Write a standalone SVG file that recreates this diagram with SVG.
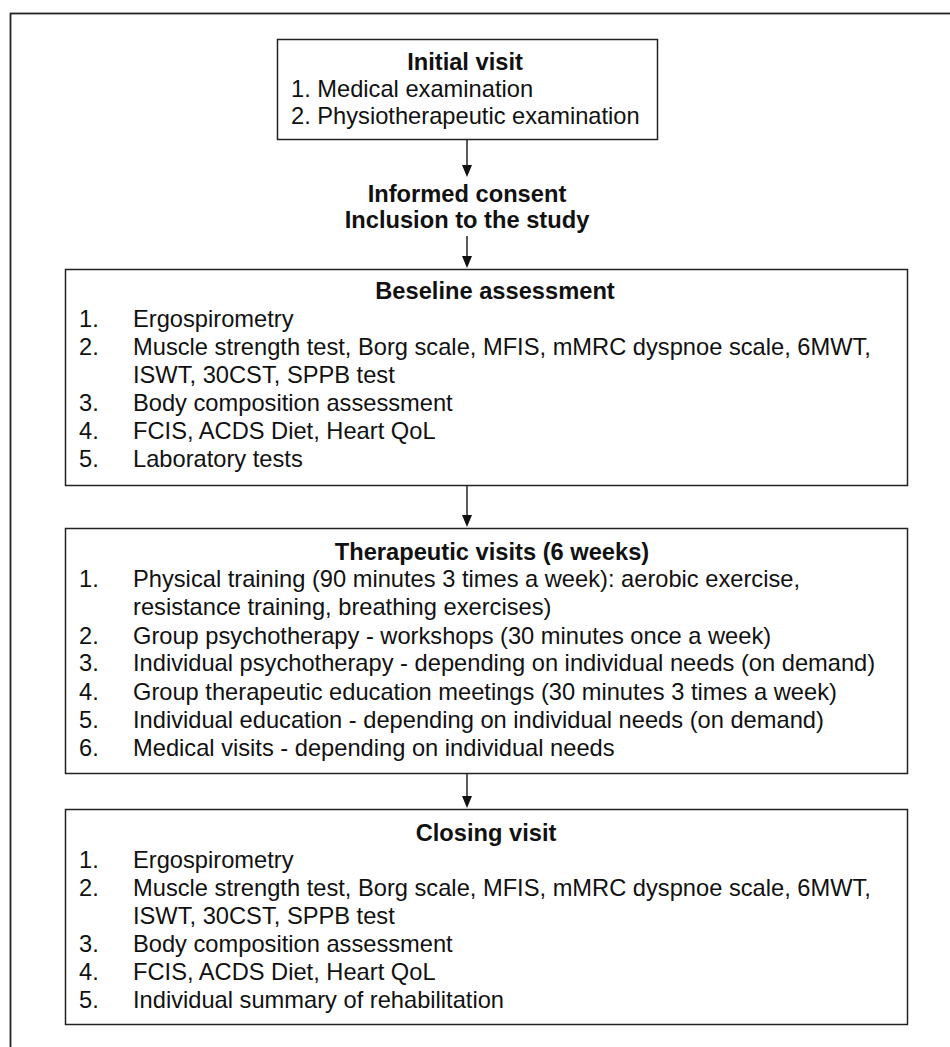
<svg xmlns="http://www.w3.org/2000/svg" width="950" height="1047" viewBox="0 0 950 1047">
<style>
.t{font-family:"Liberation Sans",Arial,sans-serif;font-size:23px;fill:#111}
.b{font-weight:bold}
.c{text-anchor:middle}
.box{fill:#fff;stroke:#222;stroke-width:1.5}
.ln{stroke:#222;stroke-width:1.5;fill:none}
.ah{fill:#111}
</style>
<rect width="950" height="1047" fill="#fff"/>
<rect id="frame" x="10.5" y="13.5" width="1000" height="1100" fill="none" stroke="#222" stroke-width="1.8"/>

<g id="connectors">
<line class="ln" x1="467" y1="139" x2="467" y2="170"/>
<path class="ah" d="M462,165 L472,165 L467,177 Z"/>
<line class="ln" x1="467" y1="236" x2="467" y2="260"/>
<path class="ah" d="M462,256 L472,256 L467,268 Z"/>
<line class="ln" x1="467" y1="485" x2="467" y2="520"/>
<path class="ah" d="M462,515 L472,515 L467,527 Z"/>
<line class="ln" x1="467" y1="773" x2="467" y2="800"/>
<path class="ah" d="M462,796 L472,796 L467,808 Z"/>
</g>

<g id="initial">
<rect class="box" x="277.5" y="39.5" width="380" height="100"/>
<text class="t b c" transform="matrix(1.03,0,0,1,465,70)">Initial visit</text>
<text class="t" transform="matrix(1.03,0,0,1,291,97)">1. Medical examination</text>
<text class="t" transform="matrix(1.03,0,0,1,291,124)">2. Physiotherapeutic examination</text>
</g>

<g id="consent">
<text class="t b c" transform="matrix(1.03,0,0,1,467,202)">Informed consent</text>
<text class="t b c" transform="matrix(1.03,0,0,1,467,228)">Inclusion to the study</text>
</g>

<g id="baseline">
<rect class="box" x="65.5" y="269.5" width="842" height="216"/>
<text class="t b c" transform="matrix(1.03,0,0,1,495,299)">Beseline assessment</text>
<text class="t" transform="matrix(1.03,0,0,1,79,327)">1.</text>
<text class="t" transform="matrix(1.03,0,0,1,133,327)">Ergospirometry</text>
<text class="t" transform="matrix(1.03,0,0,1,79,355)">2.</text>
<text class="t" transform="matrix(1.03,0,0,1,133,355)">Muscle strength test, Borg scale, MFIS, mMRC dyspnoe scale, 6MWT,</text>
<text class="t" transform="matrix(1.03,0,0,1,133,383)">ISWT, 30CST, SPPB test</text>
<text class="t" transform="matrix(1.03,0,0,1,79,411)">3.</text>
<text class="t" transform="matrix(1.03,0,0,1,133,411)">Body composition assessment</text>
<text class="t" transform="matrix(1.03,0,0,1,79,439)">4.</text>
<text class="t" transform="matrix(1.03,0,0,1,133,439)">FCIS, ACDS Diet, Heart QoL</text>
<text class="t" transform="matrix(1.03,0,0,1,79,467)">5.</text>
<text class="t" transform="matrix(1.03,0,0,1,133,467)">Laboratory tests</text>
</g>

<g id="therapeutic">
<rect class="box" x="65.5" y="528.5" width="842" height="245"/>
<text class="t b c" transform="matrix(1.03,0,0,1,492,560)">Therapeutic visits (6 weeks)</text>
<text class="t" transform="matrix(1.03,0,0,1,79,587)">1.</text>
<text class="t" transform="matrix(1.03,0,0,1,133,587)">Physical training (90 minutes 3 times a week): aerobic exercise,</text>
<text class="t" transform="matrix(1.03,0,0,1,133,615)">resistance training, breathing exercises)</text>
<text class="t" transform="matrix(1.03,0,0,1,79,644)">2.</text>
<text class="t" transform="matrix(1.03,0,0,1,133,644)">Group psychotherapy - workshops (30 minutes once a week)</text>
<text class="t" transform="matrix(1.03,0,0,1,79,671)">3.</text>
<text class="t" transform="matrix(1.03,0,0,1,133,671)">Individual psychotherapy - depending on individual needs (on demand)</text>
<text class="t" transform="matrix(1.03,0,0,1,79,700)">4.</text>
<text class="t" transform="matrix(1.03,0,0,1,133,700)">Group therapeutic education meetings (30 minutes 3 times a week)</text>
<text class="t" transform="matrix(1.03,0,0,1,79,728)">5.</text>
<text class="t" transform="matrix(1.03,0,0,1,133,728)">Individual education - depending on individual needs (on demand)</text>
<text class="t" transform="matrix(1.03,0,0,1,79,756)">6.</text>
<text class="t" transform="matrix(1.03,0,0,1,133,756)">Medical visits - depending on individual needs</text>
</g>

<g id="closing">
<rect class="box" x="65.5" y="809.5" width="842" height="215"/>
<text class="t b c" transform="matrix(1.03,0,0,1,486,841)">Closing visit</text>
<text class="t" transform="matrix(1.03,0,0,1,79,868)">1.</text>
<text class="t" transform="matrix(1.03,0,0,1,133,868)">Ergospirometry</text>
<text class="t" transform="matrix(1.03,0,0,1,79,896)">2.</text>
<text class="t" transform="matrix(1.03,0,0,1,133,896)">Muscle strength test, Borg scale, MFIS, mMRC dyspnoe scale, 6MWT,</text>
<text class="t" transform="matrix(1.03,0,0,1,133,924)">ISWT, 30CST, SPPB test</text>
<text class="t" transform="matrix(1.03,0,0,1,79,952)">3.</text>
<text class="t" transform="matrix(1.03,0,0,1,133,952)">Body composition assessment</text>
<text class="t" transform="matrix(1.03,0,0,1,79,980)">4.</text>
<text class="t" transform="matrix(1.03,0,0,1,133,980)">FCIS, ACDS Diet, Heart QoL</text>
<text class="t" transform="matrix(1.03,0,0,1,79,1008)">5.</text>
<text class="t" transform="matrix(1.03,0,0,1,133,1008)">Individual summary of rehabilitation</text>
</g>
</svg>
